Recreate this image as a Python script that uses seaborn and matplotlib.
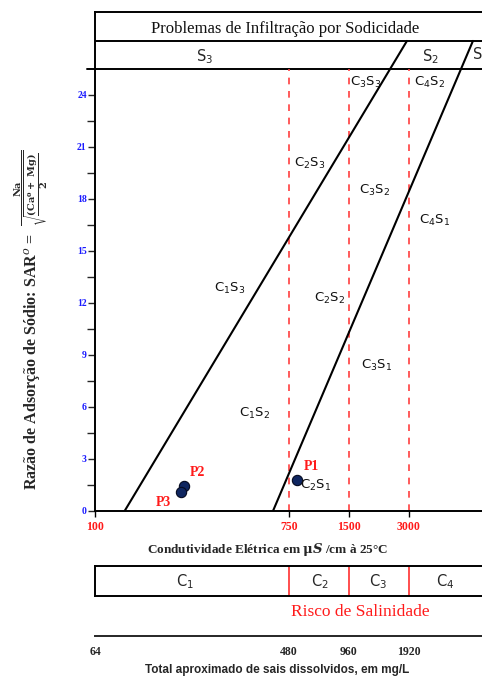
import numpy as np
import matplotlib
matplotlib.use("Agg")
import matplotlib.pyplot as plt
import seaborn as sns

# ---------------- data ----------------
EC_TICKS = [100, 750, 1500, 3000]            # µS/cm, class limits
TDS_TICKS = [64, 480, 960, 1920]             # mg/L
SAR_TICKS = [0, 3, 6, 9, 12, 15, 18, 21, 24]
C_CLASSES = ["C$_1$", "C$_2$", "C$_3$", "C$_4$"]
S_CLASSES = ["S$_3$", "S$_2$", "S$_1$"]

# boundary lines between sodicity classes (EC, SAR)
BOUND1_EC = [136, 2930]
BOUND1_SAR = [0, 27.12]
BOUND2_EC = [635, 6280]
BOUND2_SAR = [0, 27.12]

# samples
P_NAMES = ["P1", "P2", "P3"]
P_EC = [821, 252, 244]
P_SAR = [1.79, 1.44, 1.10]

ZONES = ["C$_3$S$_3$", "C$_4$S$_2$", "C$_2$S$_3$", "C$_3$S$_2$", "C$_4$S$_1$",
         "C$_1$S$_3$", "C$_2$S$_2$", "C$_3$S$_1$", "C$_1$S$_2$", "C$_2$S$_1$"]

# ---------------- style ----------------
sns.set_style("white")
plt.rcParams["font.family"] = ["Liberation Serif", "DejaVu Serif"]

W, H = 482, 679
fig = plt.figure(figsize=(W / 100, H / 100), dpi=100)

def fx(px):
    return px / W

def fy(py):
    return 1 - py / H

# piecewise-log conductivity scale as drawn in the diagram
LOG_ANCH = np.log([100, 750, 1500, 3000, 12000])
POS = np.array([0, 194, 254, 314, 434], dtype=float)

def fwd(x):
    x = np.clip(np.asarray(x, dtype=float), 1e-9, None)
    return np.interp(np.log(x), LOG_ANCH, POS)

def inv(p):
    return np.exp(np.interp(np.asarray(p, dtype=float), POS, LOG_ANCH))

X_MAX = float(inv(387))

def ec_axis(a):
    a.set_xscale("function", functions=(fwd, inv))
    a.set_xlim(100, X_MAX)

PX_PER_SAR = 416 / 24.0
Y_TOP = (511 - 12) / PX_PER_SAR
SAR_TITLE_LINE = (511 - 41) / PX_PER_SAR
SAR_PLOT_TOP = (511 - 69) / PX_PER_SAR

ax = fig.add_axes([fx(95), 1 - 511 / H, fx(387), 499 / H])
ec_axis(ax)
ax.set_ylim(0, Y_TOP)

ax.spines["right"].set_visible(False)
for s in ["left", "top", "bottom"]:
    ax.spines[s].set_color("black")
    ax.spines[s].set_linewidth(1.4)

# header lines
ax.axhline(SAR_TITLE_LINE, color="black", lw=1.4)
ax.plot([-0.02, 1], [SAR_PLOT_TOP, SAR_PLOT_TOP], transform=ax.get_yaxis_transform(),
        color="black", lw=1.4, clip_on=False)

# red dashed class limits
ax.vlines(EC_TICKS[1:], 0, SAR_PLOT_TOP, colors="#ff4040", linestyles=(0, (4, 4)), lw=1.2)

# sodicity boundary lines
sns.lineplot(x=BOUND1_EC, y=BOUND1_SAR, ax=ax, color="black", lw=1.5, sort=False, estimator=None)
sns.lineplot(x=BOUND2_EC, y=BOUND2_SAR, ax=ax, color="black", lw=1.5, sort=False, estimator=None)

# points
sns.scatterplot(x=P_EC, y=P_SAR, ax=ax, s=55, color="#0f2660", edgecolor="#050a20",
                linewidth=0.8, zorder=6)

# ticks
ax.set_xticks(EC_TICKS)
ax.set_xticklabels([str(v) for v in EC_TICKS], fontweight="bold", fontsize=8.5)
ax.xaxis.set_minor_locator(matplotlib.ticker.NullLocator())
ax.tick_params(axis="x", which="major", direction="out", length=4, width=1, pad=3, colors="black",
               labelcolor="#ff1a1a", bottom=True)
ax.set_yticks(SAR_TICKS)
ax.set_yticklabels([str(v) for v in SAR_TICKS], fontweight="bold", fontsize=7)
ax.set_yticks([v + 1.5 for v in SAR_TICKS[:-1]], minor=True)
ax.tick_params(axis="y", which="major", direction="out", length=5, width=1, pad=1, left=True,
               labelcolor="#1a1aff")
ax.tick_params(axis="y", which="minor", direction="out", length=6, width=1, left=True)
for t in ax.yaxis.get_major_ticks():
    t.tick1line.set_linestyle(":")
ax.set_xlabel("")
ax.set_ylabel("")

# header texts
fig.text(fx(285), fy(29), "Problemas de Infiltração por Sodicidade", ha="center", va="center",
         fontsize=12, color="#111111")
sans = dict(family=["DejaVu Sans"], math_fontfamily="dejavusans")
fig.text(fx(205), fy(57), S_CLASSES[0], ha="center", va="center", fontsize=10.5, **sans)
fig.text(fx(430), fy(57), S_CLASSES[1], ha="center", va="center", fontsize=10.5, **sans)
ax.text(0.975, (SAR_TITLE_LINE + SAR_PLOT_TOP) / 2, S_CLASSES[2], transform=ax.get_yaxis_transform(),
        ha="left", va="center", fontsize=10.5, clip_on=True, **sans)

# zone labels (pixel centres)
ZONE_PX = [(366, 82), (430, 82), (310, 163), (375, 190), (435, 220),
           (230, 288), (330, 298), (377, 365), (255, 413), (316, 485)]
for lab, (px, py) in zip(ZONES, ZONE_PX):
    fig.text(fx(px), fy(py), lab, ha="center", va="center", fontsize=9.5, color="#111111", **sans)

# point labels
P_LAB_PX = [(311, 467), (197, 473), (163, 502)]
for name, (px, py) in zip(P_NAMES, P_LAB_PX):
    fig.text(fx(px), fy(py), name, ha="center", va="center", fontsize=10, color="#ff1a1a",
             fontweight="bold")

# x label
fig.text(fx(268), fy(550), "Condutividade Elétrica em $\\mathbf{\\mu}\\boldsymbol{S}$ /cm à 25°C",
         ha="center", va="center", fontsize=9.5, fontweight="bold", math_fontfamily="dejavuserif")

# y label (text + formula)
fig.text(fx(33), fy(362), "Razão de Adsorção de Sódio: SAR$^{o}$ =",
         ha="center", va="center", rotation=90, fontsize=11.5, fontweight="bold",
         math_fontfamily="dejavuserif")
fig.text(fx(31), fy(188),
         "$\\dfrac{\\mathbf{Na}}{\\sqrt{\\dfrac{\\mathbf{(Ca^{o} +\\ Mg)}}{\\mathbf{2}}}}$",
         ha="center", va="center", rotation=90, fontsize=7, math_fontfamily="dejavuserif")

# salinity class box
axb = fig.add_axes([fx(95), 1 - 596 / H, fx(387), 30 / H])
ec_axis(axb)
axb.set_ylim(0, 1)
axb.spines["right"].set_visible(False)
for s in ["left", "top", "bottom"]:
    axb.spines[s].set_linewidth(1.4)
    axb.spines[s].set_color("black")
axb.vlines(EC_TICKS[1:], 0, 1, colors="#ff3030", lw=1.2)
axb.set_xticks([])
axb.set_yticks([])
axb.xaxis.set_minor_locator(matplotlib.ticker.NullLocator())
C_PX = [185, 320, 378, 445]
for lab, px in zip(C_CLASSES, C_PX):
    fig.text(fx(px), fy(582), lab, ha="center", va="center", fontsize=10.5, **sans)
fig.text(fx(360), fy(612), "Risco de Salinidade", ha="center", va="center", fontsize=12.5,
         color="#ff1a1a")

# TDS axis
axt = fig.add_axes([fx(95), 1 - 636 / H, fx(387), 0.001])
ec_axis(axt)
for s in ["left", "top", "right"]:
    axt.spines[s].set_visible(False)
axt.spines["bottom"].set_linewidth(1.4)
axt.set_yticks([])
axt.set_xticks([t / 0.64 for t in TDS_TICKS])
axt.set_xticklabels([str(t) for t in TDS_TICKS], fontweight="bold", fontsize=8.5)
axt.xaxis.set_minor_locator(matplotlib.ticker.NullLocator())
axt.tick_params(axis="x", which="major", direction="inout", length=6, width=1, pad=4)
fig.text(fx(277), fy(670), "Total aproximado de sais dissolvidos, em mg/L", ha="center",
         va="center", fontsize=8.5, fontweight="bold", family=["Liberation Sans", "DejaVu Sans"])

fig.savefig("out.png", dpi=100)
